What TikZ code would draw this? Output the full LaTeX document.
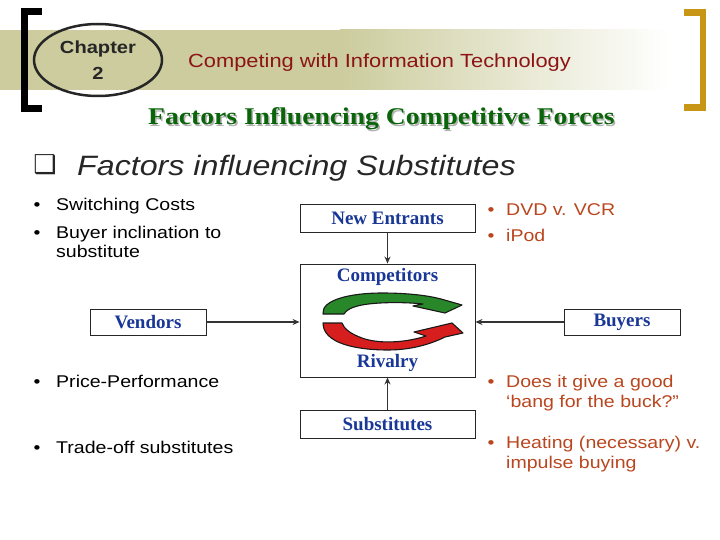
\documentclass[tikz,border=0pt]{standalone}
\usepackage{fontspec}
\setmainfont{Liberation Serif}
\setsansfont{Liberation Sans}
\newfontfamily\slidesans[FakeStretch=1.15]{Liberation Sans}
\newfontfamily\slideserif[FakeStretch=1.15]{Liberation Serif}
\newfontfamily\symbolfont{DejaVu Sans}
\usetikzlibrary{arrows.meta,shapes.geometric}
\definecolor{bandkhaki}{RGB}{204,204,158}
\definecolor{bracketgold}{RGB}{200,150,20}
\definecolor{chapterred}{RGB}{140,20,20}
\definecolor{headgreen}{RGB}{10,100,10}
\definecolor{boxblue}{RGB}{25,55,150}
\definecolor{noterust}{RGB}{185,70,30}
\definecolor{cyclegreen}{RGB}{40,135,40}
\definecolor{cyclered}{RGB}{215,30,30}
\tikzset{
	forcebox/.style={draw=black!85, line width=0.9pt, fill=white, inner sep=0pt,
		font=\fontsize{19}{20}\selectfont\bfseries, text=boxblue},
	boxlabel/.style={inner sep=0pt, font=\fontsize{19}{20}\selectfont\bfseries, text=boxblue},
	bulletmark/.style={anchor=base, inner sep=0pt, font=\slidesans\fontsize{17}{20}\selectfont},
	bullettext/.style={anchor=base west, align=left, inner sep=0pt,
		font=\slidesans\fontsize{17}{20}\selectfont},
	influence/.style={line width=1.7pt, draw=black!80, -{Stealth[length=7pt,width=6pt]}},
	cyclearrow/.style={draw=black!90, line width=1.1pt, line join=round},
}
\begin{document}
\begin{tikzpicture}[x=1pt, y=-1pt]
	% page size
	\useasboundingbox (0,0) rectangle (720,540);
	% box sizes
	\def\boxw {175};
	\def\boxh {28};
	\def\sidew {116};
	% header band and brackets
	\fill[bandkhaki] (0,30) rectangle (340,90);
	\shade[left color=bandkhaki, right color=white] (340,30) rectangle (670,90);
	\draw[line width=6.5pt, miter limit=4] (42,11.5) -- (24.5,11.5) -- (24.5,108.5) -- (42,108.5);
	\draw[bracketgold, line width=6.5pt] (684,12.5) -- (703,12.5) -- (703,107.5) -- (684,107.5);
	\node[ellipse, draw=black!85, line width=2.5pt, minimum width=128, minimum height=72,
		inner sep=0pt, align=center, text=black!85, font=\slidesans\bfseries\fontsize{17.5}{26}\selectfont]
		(chapter) at (98,60) {Chapter\\2};
	\node[anchor=base west, inner sep=0pt, text=chapterred, font=\slidesans\fontsize{19}{20}\selectfont]
		(subject) at (188,68) {Competing with Information Technology};
	\node[anchor=base west, inner sep=0pt, text=black!30, font=\slideserif\bfseries\fontsize{24}{26}\selectfont]
		(heading_shadow) at (149.5,126.5) {Factors Influencing Competitive Forces};
	\node[anchor=base west, inner sep=0pt, text=headgreen, font=\slideserif\bfseries\fontsize{24}{26}\selectfont]
		(heading) at (148,125) {Factors Influencing Competitive Forces};
	% slide title
	\node[inner sep=0pt, text=black!85, font=\symbolfont\fontsize{26}{26}\selectfont] (titlebox) at (45,165) {❑};
	\node[anchor=base west, inner sep=0pt, text=black!85, font=\slidesans\itshape\fontsize{28}{30}\selectfont]
		(title) at (77,176) {Factors influencing Substitutes};
	% five forces
	\node[forcebox, minimum width=\boxw, minimum height=\boxh] (entrants) at (387.5,218) {New Entrants};
	\node[forcebox, minimum width=\boxw, minimum height=113] (arena) at (387.5,320.5) {};
	\node[forcebox, minimum width=\boxw, minimum height=\boxh] (substitutes) at (387.5,424) {Substitutes};
	\node[forcebox, minimum width=\sidew, minimum height=26] (vendors) at (148,322) {Vendors};
	\node[forcebox, minimum width=\sidew, minimum height=26] (buyers) at (622,322) {Buyers};
	\node[boxlabel] (competitors) at (387.5,277) {Competitors};
	\node[boxlabel] (rivalry) at (387.5,363) {Rivalry};
	% edges
	\draw[influence] (entrants) -- (arena);
	\draw[influence] (substitutes) -- (arena);
	\draw[influence] (vendors.east) -- (vendors.east -| arena.west);
	\draw[influence] (buyers.west) -- (buyers.west -| arena.east);
	% rivalry cycle
	\filldraw[cyclearrow, fill=cyclegreen] (344,314) -- (323,314)
		.. controls (321,300) and (350,293) .. (382,293)
		.. controls (410,293) and (430,296) .. (441,299)
		-- (462,305) -- (445,313) -- (413,306) -- (423,304)
		.. controls (405,302) and (378,302) .. (362,305)
		.. controls (352,307) and (346,310) .. (344,314) -- cycle;
	\filldraw[cyclearrow, fill=cyclered] (342,323) -- (323,323)
		.. controls (323,343) and (355,350) .. (388,350)
		.. controls (415,350) and (435,342) .. (445,337)
		-- (463,333) -- (452,323) -- (414,332) -- (426,336)
		.. controls (405,343) and (378,344) .. (362,338)
		.. controls (351,334) and (344,329) .. (342,323) -- cycle;
	% notes left
	\foreach \bx/\by/\ty/\txt [count=\n] in {37/211/211/Switching Costs, 37/238/258/{Buyer inclination to\\substitute},
		37/387/387/Price-Performance, 37/453/453/Trade-off substitutes}
	{
		\node[bulletmark] (lb_\n) at (\bx,\by) {•};
		\node[bullettext] (lt_\n) at (\bx+19,\ty) {\txt};
	}
	% notes right
	\foreach \bx/\by/\ty/\txt [count=\n] in {491/215/215/DVD v. VCR, 491/241/241/iPod,
		491/387/407/{Does it give a good\\‘bang for the buck?”}, 491/448/468/{Heating (necessary) v.\\impulse buying}}
	{
		\node[bulletmark, text=noterust] (rb_\n) at (\bx,\by) {•};
		\node[bullettext, text=noterust] (rt_\n) at (\bx+15,\ty) {\txt};
	}
\end{tikzpicture}
\end{document}
